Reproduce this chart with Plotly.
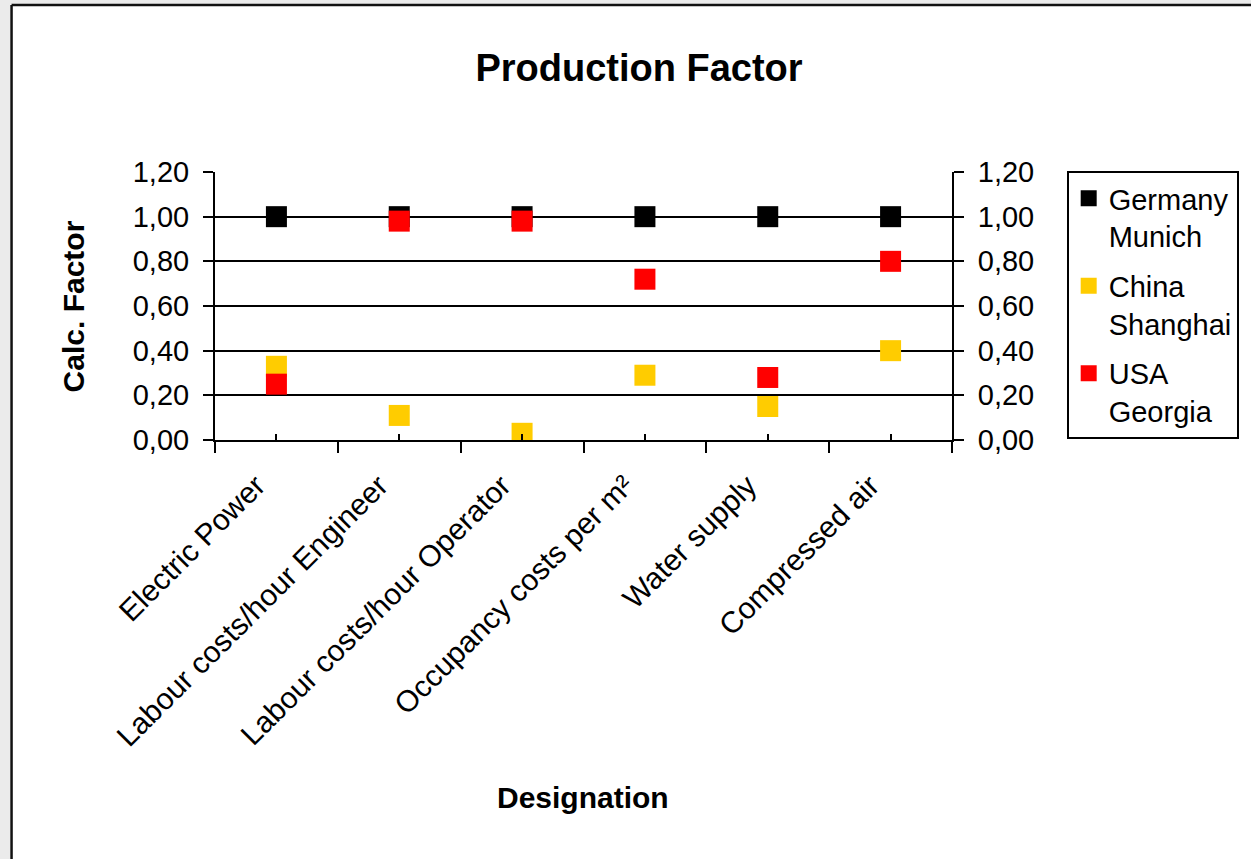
import plotly.graph_objects as go

categories = ["Electric Power", "Labour costs/hour Engineer", "Labour costs/hour Operator",
              "Occupancy costs per m²", "Water supply", "Compressed air"]
germany_munich = [1.00, 1.00, 1.00, 1.00, 1.00, 1.00]
china_shanghai = [0.33, 0.11, 0.03, 0.29, 0.15, 0.40]
usa_georgia = [0.25, 0.98, 0.98, 0.72, 0.28, 0.80]
series_names = ["Germany<br>Munich", "China<br>Shanghai", "USA<br>Georgia"]
series_colors = ["#000000", "#FFCC00", "#FF0000"]
y_ticks = [0.0, 0.2, 0.4, 0.6, 0.8, 1.0, 1.2]

W, H = 1251, 859
L, R, T, B = 215, 954, 172, 440
FONT = "Liberation Sans, Arial, sans-serif"


def px_x(px):
    return (px - L) / (R - L)


def px_y(py):
    return (B - py) / (B - T)


fig = go.Figure()
for i, (name, vals, col) in enumerate(zip(series_names, [germany_munich, china_shanghai, usa_georgia], series_colors)):
    fig.add_trace(go.Scatter(
        x=categories, y=vals, name=name, mode="markers", legendgroup="g%d" % i,
        marker=dict(symbol="square", size=21, color=col, line=dict(width=0)),
    ))

# invisible helper trace to carry the secondary (right / centre-tick) axes
fig.add_trace(go.Scatter(
    x=categories, y=germany_munich, xaxis="x2", yaxis="y2", mode="markers",
    marker=dict(opacity=0), showlegend=False, hoverinfo="skip",
))

axis_font = dict(family=FONT, size=29, color="#000000")

fig.update_layout(
    width=W, height=H,
    margin=dict(l=L, r=W - R, t=T, b=H - B, pad=0),
    paper_bgcolor="#ffffff", plot_bgcolor="#ffffff",
    separators=",.",
    font=dict(family=FONT, color="#000000"),
    title=dict(text="<b>Production Factor</b>", font=dict(family=FONT, size=38, color="#000000"),
               x=639 / W, xanchor="center", y=1 - 68 / H, yanchor="middle", xref="container", yref="container"),
    xaxis=dict(
        type="category", categoryorder="array", categoryarray=categories,
        range=[-0.5, 5.5], tickangle=-45, tickfont=dict(family=FONT, size=30, color="#000000"),
        showline=True, linecolor="#000000", linewidth=2, mirror=False,
        ticks="outside", tickson="boundaries", ticklen=11, tickwidth=2, tickcolor="#000000",
        showgrid=False, zeroline=False, ticklabelstandoff=14, ticklabelshift=-20,
    ),
    xaxis2=dict(
        type="category", categoryorder="array", categoryarray=categories, overlaying="x",
        range=[-0.5, 5.5], showticklabels=False, ticks="inside", ticklen=6, tickwidth=2,
        tickcolor="#000000", showgrid=False, zeroline=False, showline=False, anchor="y",
    ),
    yaxis=dict(
        range=[0, 1.2], tickmode="array", tickvals=y_ticks, tickformat=".2f",
        tickfont=axis_font, ticks="outside", ticklen=10, tickwidth=2, tickcolor="#000000",
        showline=True, linecolor="#000000", linewidth=2,
        showgrid=True, gridcolor="#000000", gridwidth=2, zeroline=False,
        ticklabelstandoff=8,
    ),
    yaxis2=dict(
        range=[0, 1.2], tickmode="array", tickvals=y_ticks, tickformat=".2f",
        overlaying="y", side="right", anchor="x",
        tickfont=axis_font, ticks="outside", ticklen=10, tickwidth=2, tickcolor="#000000",
        showline=True, linecolor="#000000", linewidth=2,
        showgrid=False, zeroline=False, ticklabelstandoff=8,
    ),
    legend=dict(
        x=px_x(1069), y=px_y(171), xanchor="left", yanchor="top",
        bordercolor="#000000", borderwidth=2, bgcolor="#ffffff",
        font=dict(family=FONT, size=29, color="#000000"),
        valign="top", itemwidth=30, tracegroupgap=9, traceorder="grouped",
    ),
    showlegend=True,
    annotations=[
        dict(text="<b>Calc. Factor</b>", xref="paper", yref="paper", x=px_x(73), y=0.5,
             xanchor="center", yanchor="middle", textangle=-90, showarrow=False,
             font=dict(family=FONT, size=30, color="#000000")),
        dict(text="<b>Designation</b>", xref="paper", yref="paper", x=px_x(584), y=px_y(798),
             xanchor="center", yanchor="middle", showarrow=False,
             font=dict(family=FONT, size=30, color="#000000")),
    ],
    shapes=[
        dict(type="rect", xref="paper", yref="paper", x0=px_x(-5), x1=px_x(10), y0=px_y(H + 5), y1=px_y(-5),
             fillcolor="#ebebeb", line=dict(width=0), layer="below"),
        dict(type="rect", xref="paper", yref="paper", x0=px_x(-5), x1=px_x(W + 5), y0=px_y(4), y1=px_y(-5),
             fillcolor="#ebebeb", line=dict(width=0), layer="below"),
        dict(type="line", xref="paper", yref="paper", x0=px_x(11), x1=px_x(11), y0=px_y(5), y1=px_y(H + 5),
             line=dict(color="#111111", width=2.5)),
        dict(type="line", xref="paper", yref="paper", x0=px_x(11), x1=px_x(W + 5), y0=px_y(5), y1=px_y(5),
             line=dict(color="#111111", width=2.5)),
    ],
)

fig.write_html("out.html", config={"displayModeBar": False},
               post_script="document.body.style.margin='0';document.body.style.overflow='hidden';")
